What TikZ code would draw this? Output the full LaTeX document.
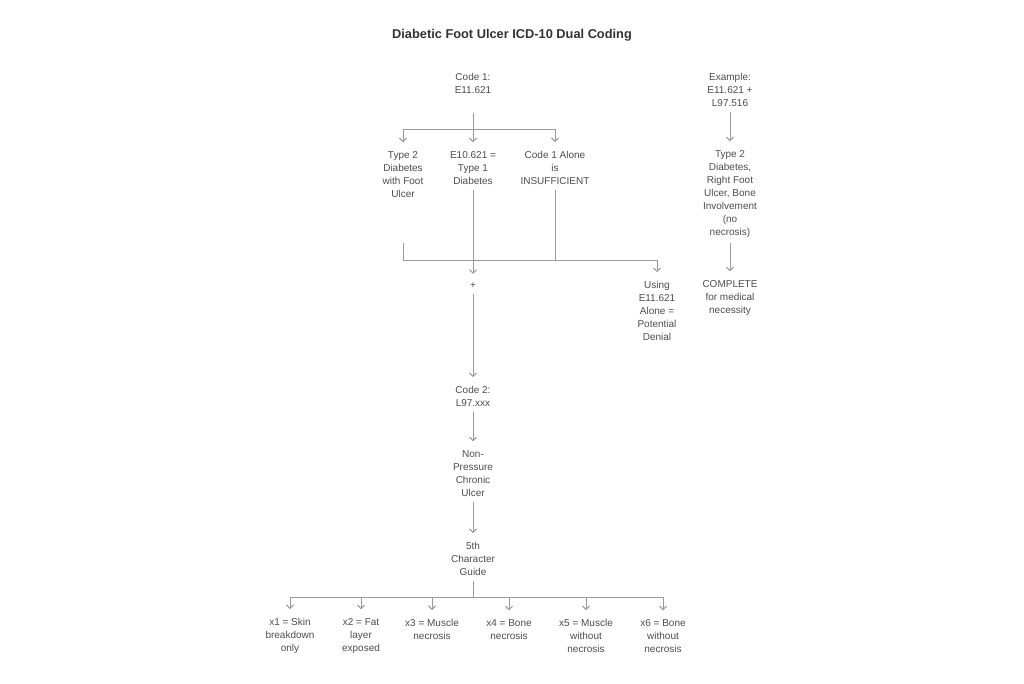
\documentclass[tikz,border=0pt]{standalone}
\usepackage{fontspec}
\setmainfont{Liberation Sans}
\usetikzlibrary{arrows.meta}
\definecolor{txt}{HTML}{4E4E4E}
\definecolor{lnc}{HTML}{9A9A9A}
\definecolor{ttl}{HTML}{333333}
\begin{document}
\begin{tikzpicture}[x=1pt,y=-1pt,
  lbl/.style={align=center, inner xsep=0pt, inner ysep=5pt, text=txt, font=\fontsize{10}{13}\selectfont},
  conn/.style={draw=lnc, line width=1pt},
  arr/.style={conn, -{Straight Barb[length=3.5pt,width=7pt]}, shorten >=4pt}]
\fill[white] (0,0) rectangle (1024,683);
\useasboundingbox (0,0) rectangle (1024,683);

\node[font=\bfseries\fontsize{12.8}{15}\selectfont, text=ttl] (title) at (512,35) {Diabetic Foot Ulcer ICD-10 Dual Coding};

\node[lbl] (c1) at (473,83.5) {Code 1:\\E11.621};
\node[lbl] (t2) at (403,174.5) {Type 2\\Diabetes\\with Foot\\Ulcer};
\node[lbl] (e10) at (473,168) {E10.621 =\\Type 1\\Diabetes};
\node[lbl] (c1a) at (555,168) {Code 1 Alone\\is\\INSUFFICIENT};
\node[lbl] (use) at (657,311) {Using\\E11.621\\Alone =\\Potential\\Denial};
\node[lbl] (plus) at (473,286) {+};
\node[lbl] (c2) at (473,396.5) {Code 2:\\L97.xxx};
\node[lbl] (np) at (473,473.5) {Non-\\Pressure\\Chronic\\Ulcer};
\node[lbl] (g5) at (473,559) {5th\\Character\\Guide};

\node[lbl] (x1) at (290,636) {x1 = Skin\\breakdown\\only};
\node[lbl] (x2) at (361,636) {x2 = Fat\\layer\\exposed};
\node[lbl] (x3) at (432,629.5) {x3 = Muscle\\necrosis};
\node[lbl] (x4) at (509,629.5) {x4 = Bone\\necrosis};
\node[lbl] (x5) at (586,636) {x5 = Muscle\\without\\necrosis};
\node[lbl] (x6) at (663,636) {x6 = Bone\\without\\necrosis};

\node[lbl] (ex) at (730,90) {Example:\\E11.621 +\\L97.516};
\node[lbl] (t2r) at (730,194) {Type 2\\Diabetes,\\Right Foot\\Ulcer, Bone\\Involvement\\(no\\necrosis)};
\node[lbl] (comp) at (730,298) {COMPLETE\\for medical\\necessity};

\coordinate (b1) at (473,129);
\coordinate (t2e) at (403,243);
\coordinate (mr) at (657,260);
\coordinate (b2) at (473,597);

\draw[conn, shorten <=14pt] (c1.south) -- (b1);
\draw[arr] (b1) -| (t2.north);
\draw[arr] (b1) -- (e10.north);
\draw[arr] (b1) -| (c1a.north);

\draw[conn] (t2e) |- (mr);
\draw[conn] (c1a.south) -- (c1a.south |- mr);
\draw[arr] (mr) -- (use.north);

\draw[arr] (e10.south) -- (plus.north);
\draw[arr] (plus.south) -- (c2.north);
\draw[arr] (c2.south) -- (np.north);
\draw[arr] (np.south) -- (g5.north);
\draw[conn] (g5.south) -- (b2);
\foreach \n in {x1,x2,x3,x4,x5,x6} \draw[arr] (b2) -| (\n.north);

\draw[arr] (ex.south) -- (t2r.north);
\draw[arr] (t2r.south) -- (comp.north);
\end{tikzpicture}
\end{document}
